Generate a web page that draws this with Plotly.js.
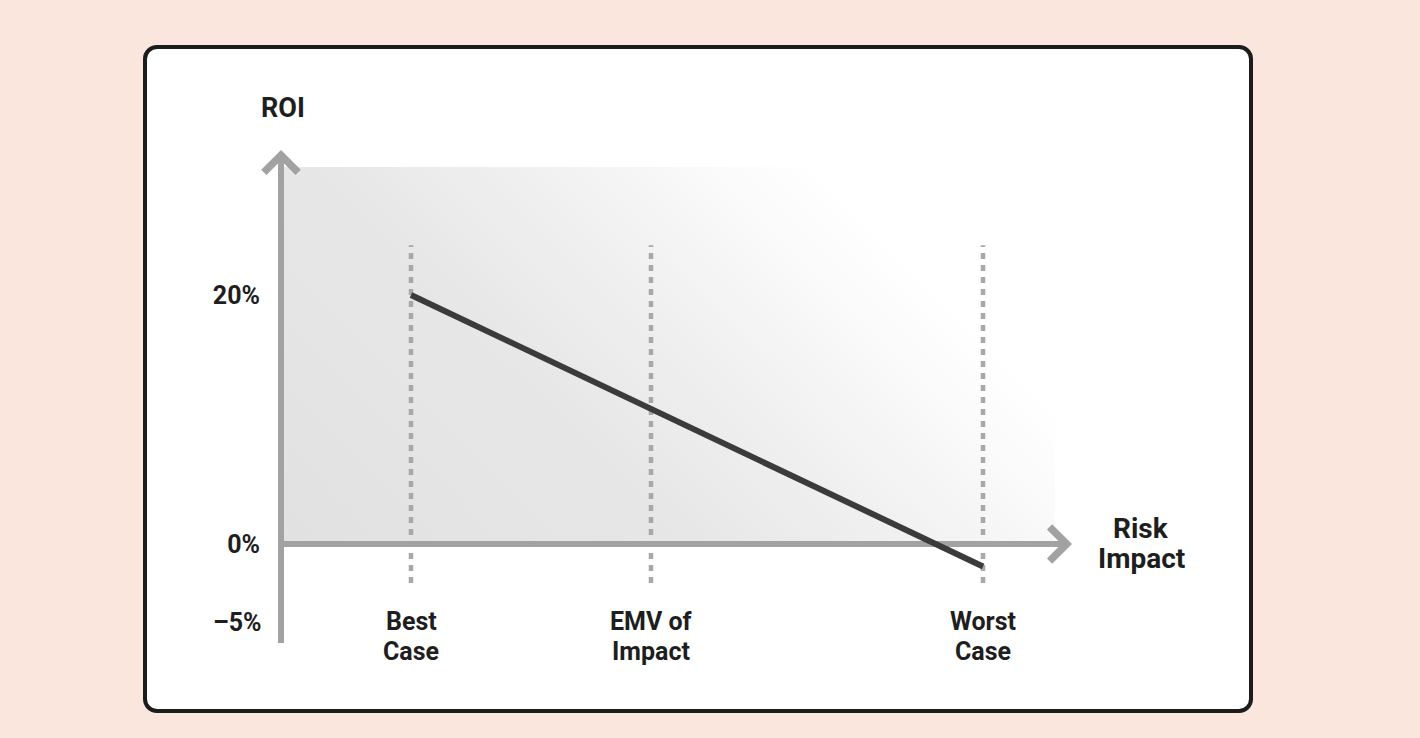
<!DOCTYPE html>
<html><head><meta charset="utf-8">
<script src="https://cdn.plot.ly/plotly-3.0.1.min.js"></script>
<style>
html,body{margin:0;padding:0;width:1420px;height:738px;background:#fae6dc;overflow:hidden}
#card{position:absolute;left:143px;top:45px;width:1110px;height:668px;box-sizing:border-box;border:4px solid #1c1c1c;border-radius:14px;background:#fff}
#chart{position:absolute;left:0;top:0;width:1420px;height:738px}
</style></head><body>
<div id="card"></div><div id="chart"></div>
<script>
// ---- data ----
const categories = ["Best<br>Case", "EMV of<br>Impact", "Worst<br>Case"];
const riskImpact = [13, 37, 70.2];
const roi = [20, 10.8, -1.8];
const yTickVals = [0, 20];
const yTickText = ["0%", "20%"];
const lowTickText = "–5%";
const xAxisTitle = "Risk<br>Impact";
const yAxisTitle = "ROI";

// ---- layout helpers (plot area: 261..1081 px wide, 140..650 px tall) ----
const L = 261, R = 1081, T = 140, B = 650;
const px = p => (p - L) / (R - L);
const py = p => (B - p) / (B - T);

const narrow = "Roboto, 'Liberation Sans', sans-serif";
const bold = "Roboto, 'Liberation Sans', sans-serif";
const txt = "#1e1e1e";
const axisCol = "#a2a2a2";

const xr = [-2, 80], yr = [-8.51, 32.45];
const shadeTop = 30.28, shadeRight = 77.4;
const dotTop = 24.0, dotBottom = -3.13;
const yAxisBottom = -7.95, yAxisTip = 31.65, xAxisTip = 79.1;

const svg = `<svg xmlns="http://www.w3.org/2000/svg" width="774" height="376" viewBox="0 0 774 376" preserveAspectRatio="none"><defs><linearGradient id="g" gradientUnits="userSpaceOnUse" x1="0" y1="376" x2="600" y2="-224"><stop offset="0" stop-color="#e1e1e1"/><stop offset="0.35" stop-color="#e7e7e7"/><stop offset="0.55" stop-color="#f2f2f2"/><stop offset="0.68" stop-color="#fbfbfb"/><stop offset="0.76" stop-color="#ffffff"/></linearGradient></defs><rect width="774" height="376" fill="url(#g)"/></svg>`;
const svgSrc = "data:image/svg+xml;base64," + btoa(svg);

const shapes = [];
riskImpact.forEach(v => shapes.push({type: "line", xref: "x", yref: "y", x0: v, x1: v, y0: dotBottom, y1: dotTop,
  line: {color: "#a8a8a8", width: 4.5, dash: "6px,6px"}, layer: "between"}));
shapes.push({type: "line", xref: "x", yref: "y", x0: 0, x1: xAxisTip - 1, y0: 0, y1: 0, line: {color: axisCol, width: 6}, layer: "between"});
shapes.push({type: "line", xref: "x", yref: "y", x0: 0, x1: 0, y0: yAxisBottom, y1: yAxisTip - 1, line: {color: axisCol, width: 6}, layer: "between"});

const annotations = [];
// arrowheads
annotations.push({x: xAxisTip, y: 0, ax: xAxisTip - 2, ay: 0, xref: "x", yref: "y", axref: "x", ayref: "y",
  showarrow: true, arrowhead: 4, arrowsize: 1.1, arrowwidth: 6, arrowcolor: axisCol, text: ""});
annotations.push({x: 0, y: yAxisTip, ax: 0, ay: yAxisTip - 2, xref: "x", yref: "y", axref: "x", ayref: "y",
  showarrow: true, arrowhead: 4, arrowsize: 1.1, arrowwidth: 6, arrowcolor: axisCol, text: ""});

// category labels (one annotation per line)
categories.forEach((c, i) => {
  c.split("<br>").forEach((line, j) => {
    annotations.push({x: riskImpact[i], xref: "x", y: py(621 + 30 * j), yref: "paper", text: line, showarrow: false,
      xanchor: "center", yanchor: "middle", font: {family: narrow, size: 25, color: txt, weight: "bold"}});
  });
});
// -5% label
annotations.push({x: px(264), xref: "paper", y: py(622), yref: "paper", text: lowTickText, showarrow: false,
  xanchor: "right", yanchor: "middle", font: {family: narrow, size: 25, color: txt, weight: "bold"}});
// y axis title
annotations.push({x: px(259), xref: "paper", y: py(108), yref: "paper", text: yAxisTitle, showarrow: false,
  xanchor: "left", yanchor: "middle", font: {family: bold, size: 27, color: txt, weight: "bold"}});
// x axis title
xAxisTitle.split("<br>").forEach((line, j) => {
  annotations.push({x: px(1141), xref: "paper", y: py(528 + 30 * j), yref: "paper", text: line, showarrow: false,
    xanchor: "center", yanchor: "middle", font: {family: bold, size: 28, color: txt, weight: "bold"}});
});

const trace = {x: riskImpact, y: roi, type: "scatter", mode: "lines", line: {color: "#3b3b3b", width: 6},
  hoverinfo: "skip", cliponaxis: false, showlegend: false};

const layout = {
  width: 1420, height: 738,
  margin: {l: L, r: 1420 - R, t: T, b: 738 - B},
  paper_bgcolor: "rgba(0,0,0,0)", plot_bgcolor: "rgba(0,0,0,0)",
  xaxis: {range: xr, visible: false, fixedrange: true},
  yaxis: {range: yr, showgrid: false, zeroline: false, showline: false, ticks: "",
    tickvals: yTickVals, ticktext: yTickText, ticklabelstandoff: 0,
    tickfont: {family: narrow, size: 25, color: txt, weight: "bold"}, fixedrange: true},
  images: [{source: svgSrc, xref: "x", yref: "y", x: 0, y: shadeTop, sizex: shadeRight, sizey: shadeTop,
    sizing: "stretch", xanchor: "left", yanchor: "top", layer: "below"}],
  shapes: shapes,
  annotations: annotations,
  showlegend: false
};
Plotly.newPlot("chart", [trace], layout, {displayModeBar: false, staticPlot: true});
</script>
</body></html>
